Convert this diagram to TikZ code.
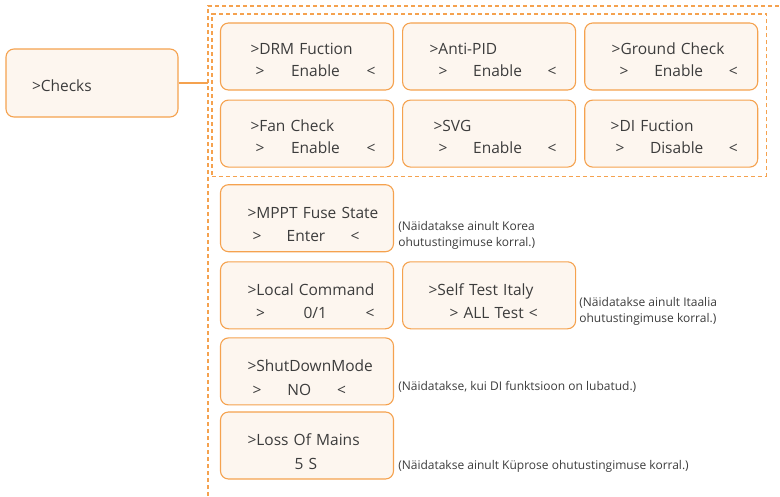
\documentclass[tikz,border=0pt]{standalone}
\usepackage{fontspec}
\setmainfont{Open Sans}
\usetikzlibrary{positioning, fit, backgrounds}
\definecolor{boxorange}{HTML}{F5A24F}
\definecolor{boxfill}{HTML}{FDF6EF}
\definecolor{textgray}{HTML}{3C3C3C}
\newcommand{\selline}[3]{\hspace*{#1}\makebox[#2]{>\hfill #3\hfill<}}

\begin{document}
\begin{tikzpicture}[x=1pt, y=-1pt,
  node distance=9pt and 8pt,
  every node/.style={font=\fontsize{15.5}{21.5}\selectfont, text=textgray},
  menu/.style={rectangle, rounded corners=8pt, draw=boxorange, line width=1.1pt, fill=boxfill,
    minimum width=173pt, minimum height=67pt, text width=150pt, inner xsep=11.5pt, inner ysep=0pt, align=left,
    execute at begin node={\rule{0pt}{17.8pt}}},
  lowmenu/.style={menu, font=\fontsize{15.5}{23.5}\selectfont,
    execute at begin node={\rule{0pt}{24pt}}},
  note/.style={font=\fontsize{12}{16}\selectfont, inner sep=0pt, align=left, anchor=south west},
  dashframe/.style={draw=boxorange, line width=1.1pt, dash pattern=on 4pt off 3pt},
  link/.style={boxorange, line width=1.1pt}
]
\useasboundingbox (0,0) rectangle (780,496);

% ---- CHECKS ----
\node[menu, minimum width=172pt, minimum height=68pt, text width=149pt,
  execute at begin node={}] (checks) at (92,83) {\hspace*{14.5pt}>Checks};

% ---- SWITCH GRID ----
\node[menu] (drm) at (307,56.5) {\hspace*{18.5pt}>DRM Fuction\\\selline{23.5pt}{120pt}{Enable}};
\node[menu, right=of drm] (antipid) {\hspace*{15.5pt}>Anti-PID\\\selline{24.5pt}{118pt}{Enable}};
\node[menu, right=of antipid] (ground) {\hspace*{15.5pt}>Ground Check\\\selline{23.5pt}{118pt}{Enable}};
\node[menu, below=of drm] (fan) {\hspace*{18.5pt}>Fan Check\\\selline{23.5pt}{120pt}{Enable}};
\node[menu, below=of antipid] (svg) {\hspace*{19.5pt}>SVG\\\selline{24.5pt}{118pt}{Enable}};
\node[menu, below=of ground] (di) {\hspace*{14.5pt}>DI Fuction\\\selline{19.5pt}{122pt}{Disable}};

% ---- LOWER ITEMS ----
\node[lowmenu, below=16.5pt of fan] (mppt) {\hspace*{15.5pt}>MPPT Fuse State\\\selline{20.5pt}{107pt}{Enter}};
\node[lowmenu, below=of mppt] (localcmd) {\hspace*{15.5pt}>Local Command\\\selline{24pt}{118.5pt}{0/1}};
\node[lowmenu, right=of localcmd] (selftest) {\hspace*{14.5pt}>Self Test Italy\\\hspace*{35.5pt}> ALL Test <};
\node[lowmenu, below=8pt of localcmd] (shutdown) {\hspace*{15.5pt}>ShutDownMode\\\selline{20.5pt}{93.5pt}{NO}};
\node[lowmenu, below=6pt of shutdown] (mains) {\hspace*{15.5pt}>Loss Of Mains\\\hspace*{62.5pt}5 S};

% ---- NOTES ----
\node[note] (notekorea) at ([xshift=4pt, yshift=3pt]mppt.south east) {(Näidatakse ainult Korea\\ohutustingimuse korral.)};
\node[note] (noteitaly) at ([xshift=3pt, yshift=4pt]selftest.south east) {(Näidatakse ainult Itaalia\\ohutustingimuse korral.)};
\node[note, anchor=base west] (notedi) at ([xshift=4pt, yshift=15pt]shutdown.south east) {(Näidatakse, kui DI funktsioon on lubatud.)};
\node[note, anchor=base west] (notecyprus) at ([xshift=4pt, yshift=10pt]mains.south east) {(Näidatakse ainult Küprose ohutustingimuse korral.)};

% ---- FRAMES ----
\coordinate (framecorner) at (208,6);
\draw[dashframe] (208,496) -- (framecorner) -- (780,6);
\node[dashframe, fit=(drm)(di), inner xsep=8pt, inner ysep=8.5pt] (grid) {};
\draw[link] (checks.east) -- (checks.east -| framecorner);
\end{tikzpicture}
\end{document}
